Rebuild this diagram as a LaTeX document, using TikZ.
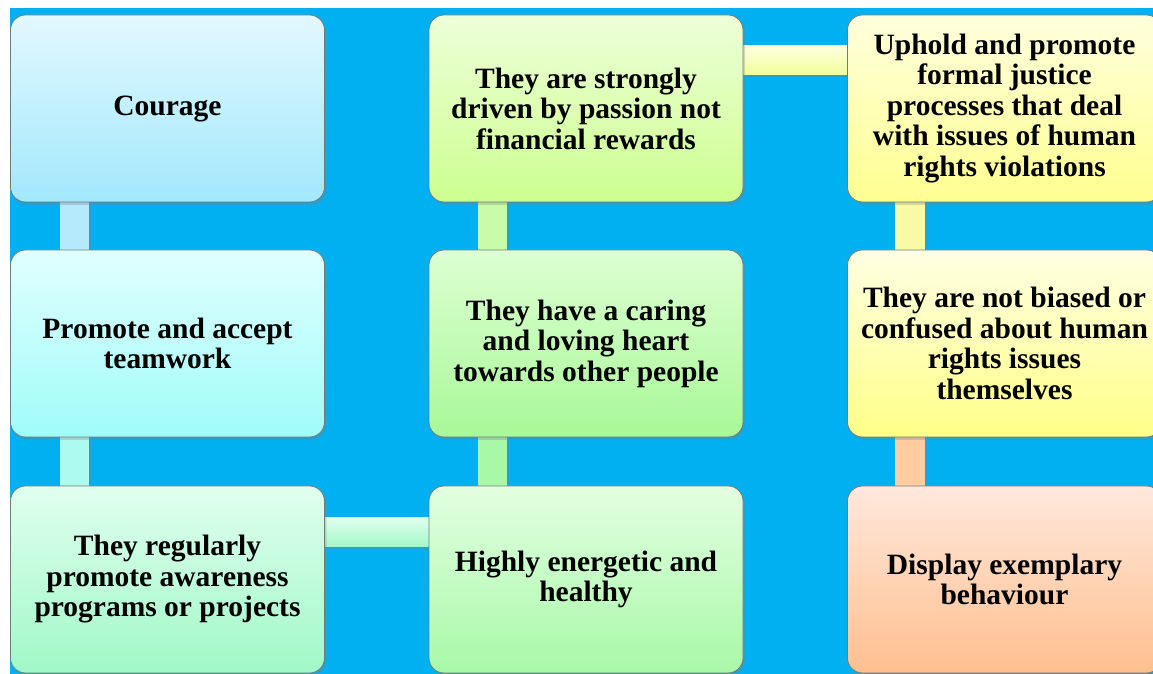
\documentclass[tikz,border=0pt]{standalone}
\usepackage{fontspec}
\setmainfont{Liberation Serif}
\usetikzlibrary{calc,shadows}
\pgfdeclarelayer{bg}
\pgfdeclarelayer{canvas}
\pgfsetlayers{canvas,bg,main}
\definecolor{sky}{HTML}{00B0F0}
\definecolor{edge}{HTML}{6E7C7C}
\definecolor{aT}{HTML}{E2F8FF}\definecolor{aB}{HTML}{A2E8FC}
\definecolor{bT}{HTML}{E0FFFF}\definecolor{bB}{HTML}{A0FCF8}
\definecolor{cT}{HTML}{E0FFEE}\definecolor{cB}{HTML}{A0F8C8}
\definecolor{dT}{HTML}{E2FFE0}\definecolor{dB}{HTML}{A8F8A8}
\definecolor{eT}{HTML}{DDFFD2}\definecolor{eB}{HTML}{A8F898}
\definecolor{fT}{HTML}{EEFFD8}\definecolor{fB}{HTML}{CCFF90}
\definecolor{gT}{HTML}{FFFFDD}\definecolor{gB}{HTML}{FFFF90}
\definecolor{hT}{HTML}{FFFFE2}\definecolor{hB}{HTML}{FFFF88}
\definecolor{iT}{HTML}{FFE8DC}\definecolor{iB}{HTML}{FFBF8E}
\definecolor{tT}{HTML}{FFFFE0}\definecolor{tB}{HTML}{F0FF99}
\definecolor{vA}{HTML}{B4EAFB}
\definecolor{vB}{HTML}{ACFAF0}
\definecolor{vC}{HTML}{A8F8A8}
\definecolor{vD}{HTML}{C8FCA8}
\definecolor{vE}{HTML}{FAFAA6}
\definecolor{vF}{HTML}{FFCCA0}
\tikzset{
  box/.style={rectangle, rounded corners=15pt, draw=edge, line width=0.8pt,
    minimum width=314pt, minimum height=187pt, inner sep=0pt, align=center,
    font=\fontsize{29.5}{30.5}\selectfont\bfseries, text=black,
    drop shadow={shadow xshift=2pt, shadow yshift=-3pt, opacity=0.3}},
  cshadow/.style={drop shadow={shadow xshift=2pt, shadow yshift=-2pt, opacity=0.25}}
}
\begin{document}
\begin{tikzpicture}[x=1pt,y=1pt]
\useasboundingbox (0,0) rectangle (1153,674);
\clip (0,0) rectangle (1153,674);
\begin{pgfonlayer}{canvas}
\fill[white] (0,0) rectangle (1153,674);
\fill[sky] (10,0) rectangle (1153,666);
\end{pgfonlayer}

% column 1
\node[box, top color=aT, bottom color=aB] (b1) at (167.5,565.5) {Courage};
\node[box, top color=bT, bottom color=bB] (b2) at (167.5,330.5) {Promote and accept\\teamwork};
\node[box, top color=cT, bottom color=cB] (b3) at (167.5,94.5) {They regularly\\promote awareness\\programs or projects};
% column 2
\node[box, top color=dT, bottom color=dB] (b4) at (586,94.5) {Highly energetic and\\healthy};
\node[box, top color=eT, bottom color=eB] (b5) at (586,330.5) {They have a caring\\and loving heart\\towards other people};
\node[box, top color=fT, bottom color=fB] (b6) at (586,565.5) {They are strongly\\driven by passion not\\financial rewards};
% column 3
\node[box, top color=gT, bottom color=gB] (b7) at (1004.5,565.5) {Uphold and promote\\formal justice\\processes that deal\\with issues of human\\rights violations};
\node[box, top color=hT, bottom color=hB] (b8) at (1004.5,330.5) {They are not biased or\\confused about human\\rights issues\\themselves};
\node[box, top color=iT, bottom color=iB] (b9) at (1004.5,94.5) {Display exemplary\\behaviour};

\begin{pgfonlayer}{bg}
% vertical connectors
\fill[vA, cshadow] ($(b1.south west)+(50pt,0)$) rectangle ($(b2.north west)+(79pt,0)$);
\fill[vB, cshadow] ($(b2.south west)+(50pt,0)$) rectangle ($(b3.north west)+(79pt,0)$);
\fill[vC, cshadow] ($(b5.south west)+(49pt,0)$) rectangle ($(b4.north west)+(78pt,0)$);
\fill[vD, cshadow] ($(b6.south west)+(49pt,0)$) rectangle ($(b5.north west)+(78pt,0)$);
\fill[vE, cshadow] ($(b7.south west)+(48pt,0)$) rectangle ($(b8.north west)+(78pt,0)$);
\fill[vF, cshadow] ($(b8.south west)+(48pt,0)$) rectangle ($(b9.north west)+(78pt,0)$);
% horizontal connectors
\shade[top color=cT, bottom color=cB, cshadow] ($(b3.north east)+(0,-32pt)$) rectangle ($(b4.north west)+(0,-61pt)$);
\shade[top color=tT, bottom color=tB, cshadow] ($(b6.north east)+(0,-31pt)$) rectangle ($(b7.north west)+(0,-60pt)$);
\end{pgfonlayer}
\end{tikzpicture}
\end{document}
